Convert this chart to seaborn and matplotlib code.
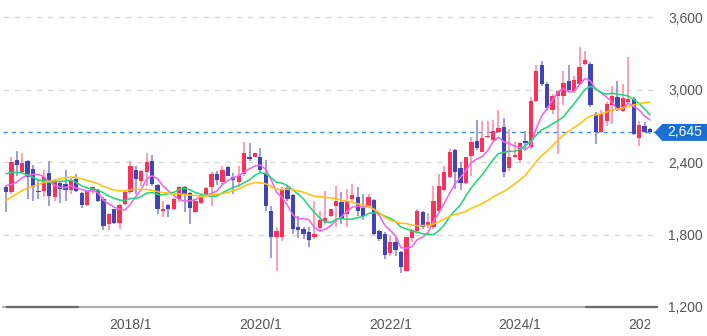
import numpy as np
import pandas as pd
import matplotlib
matplotlib.use("Agg")
import matplotlib.pyplot as plt
import seaborn as sns
from matplotlib.patches import Polygon
from matplotlib.transforms import Bbox, TransformedBbox, blended_transform_factory

# Monthly candles, 2016/2 .. 2026/1
first_month = "2016-02"
open_ = [2197, 2150, 2418, 2316, 2412, 2343, 2164, 2156, 2307, 2109,
         2228, 2219, 2172, 2261, 2145, 2048, 2164, 2170, 2095, 1883,
         2007, 1894, 2054, 2150, 2335, 2247, 2316, 2407, 2211, 1993,
         2048, 2012, 2095, 2197, 2142, 1985, 2059, 2137, 2192, 2302,
         2233, 2357, 2274, 2233, 2302, 2445, 2445, 2440, 2302, 1998,
         1778, 1783, 2186, 2123, 1861, 1847, 1819, 1778, 1852, 1902,
         1952, 2032, 2068, 1971, 2090, 2114, 2021, 2032, 2087, 1833,
         1805, 1645, 1736, 1654, 1502, 1772, 1833, 1985, 1875, 1861,
         1998, 2172, 2280, 2501, 2349, 2225, 2448, 2578, 2487, 2605,
         2583, 2647, 2690, 2351, 2440, 2418, 2575, 2522, 2901, 3199,
         3047, 2830, 2945, 2950, 3069, 2990, 3047, 3212, 3212, 2799,
         2647, 2740, 2868, 2942, 2826, 2895, 2923, 2600, 2694, 2674]
high = [2205, 2445, 2490, 2473, 2418, 2379, 2261, 2335, 2412, 2252,
        2233, 2335, 2266, 2302, 2150, 2160, 2197, 2178, 2109, 1977,
        2010, 2050, 2164, 2412, 2371, 2335, 2473, 2462, 2219, 2081,
        2054, 2100, 2200, 2205, 2150, 2095, 2125, 2192, 2316, 2324,
        2371, 2363, 2308, 2363, 2564, 2556, 2478, 2520, 2418, 2040,
        1861, 2192, 2205, 2137, 1957, 1861, 1861, 2076, 1998, 2164,
        2012, 2205, 2150, 2178, 2219, 2192, 2137, 2137, 2095, 1838,
        1819, 1800, 1778, 1662, 1783, 1847, 2012, 1998, 1975, 2205,
        2302, 2371, 2509, 2510, 2398, 2445, 2605, 2749, 2743, 2743,
        2749, 2832, 2765, 2674, 2564, 2564, 2660, 2942, 3199, 3240,
        3060, 2965, 2992, 3157, 3199, 3110, 3356, 3323, 3230, 2812,
        2830, 2900, 3033, 3074, 3047, 3268, 2936, 2743, 2730, 2680]
low = [1990, 2137, 2288, 2310, 2095, 2081, 2095, 2109, 2040, 2081,
       2059, 2081, 2137, 2150, 2021, 2040, 2137, 2073, 1841, 1839,
       1883, 1847, 2048, 2137, 2137, 2205, 2205, 2205, 1971, 1949,
       1949, 2004, 2068, 1985, 1888, 1977, 2054, 2130, 2040, 2211,
       2219, 2285, 2137, 2197, 2288, 2407, 2440, 2320, 1998, 1604,
       1502, 1750, 2081, 1805, 1772, 1764, 1695, 1764, 1833, 1880,
       1943, 1861, 1888, 1861, 2081, 1957, 1916, 2026, 1792, 1750,
       1598, 1626, 1626, 1480, 1495, 1736, 1819, 1847, 1850, 1847,
       1985, 2160, 2270, 2178, 2172, 2215, 2288, 2501, 2481, 2595,
       2578, 2638, 2274, 2329, 2434, 2390, 2495, 2510, 2895, 3033,
       2820, 2800, 2467, 2868, 2980, 2975, 3040, 3200, 2854, 2550,
       2640, 2700, 2716, 2826, 2812, 2881, 2620, 2536, 2640, 2630]
close = [2150, 2399, 2377, 2390, 2274, 2192, 2150, 2280, 2117, 2233,
         2178, 2172, 2247, 2159, 2048, 2156, 2192, 2081, 1869, 1971,
         1894, 2048, 2150, 2363, 2261, 2324, 2399, 2219, 2007, 2012,
         2007, 2095, 2197, 2137, 2021, 2081, 2123, 2186, 2302, 2252,
         2335, 2288, 2253, 2288, 2473, 2426, 2476, 2330, 2040, 1783,
         1833, 2178, 2095, 1847, 1841, 1805, 1756, 1805, 1916, 1938,
         2012, 2081, 1930, 2076, 2123, 1993, 1957, 2109, 1805, 1764,
         1634, 1736, 1673, 1529, 1778, 1839, 1993, 1861, 1905, 2076,
         2205, 2321, 2487, 2321, 2227, 2440, 2564, 2517, 2600, 2619,
         2655, 2683, 2321, 2440, 2462, 2558, 2560, 2901, 3157, 3047,
         2850, 2950, 2985, 3052, 2992, 3080, 3190, 3245, 2868, 2647,
         2799, 2880, 2950, 2840, 2931, 2923, 2633, 2710, 2647, 2645]
# Closes for 2014/3 .. 2016/1, only used to seed the moving averages
close_prior = [1700, 1720, 1760, 1800, 1780, 1830, 1870, 1900, 1940, 1960,
               2000, 2060, 2250, 2380, 2450, 2480, 2420, 2414, 2350, 2250,
               2180, 2150, 2150]
ma_windows = [6, 12, 24]
tick_labels = ["2018/1", "2020/1", "2022/1", "2024/1", "2026/1"]
y_ticks = [1200, 1800, 2400, 3000, 3600]

ma_colors = {6: "#ee66ee", 12: "#22d77a", 24: "#ffc20e"}
up_body, down_body = "#fa325a", "#4343b8"
up_wick, down_wick = "#ff8fa8", "#8c8cd8"

months = pd.period_range(first_month, periods=len(close), freq="M")
labels_idx = [i for i, m in enumerate(months) if f"{m.year}/{m.month}" in tick_labels]
idx = np.arange(len(close))

o = np.array(open_, float)
h = np.array(high, float)
l = np.array(low, float)
c = np.array(close, float)

full = pd.Series(close_prior + close, dtype=float)
frames = []
for w in ma_windows:
    ma = full.rolling(w).mean().iloc[len(close_prior):].to_numpy()
    frames.append(pd.DataFrame({"idx": idx, "value": ma, "window": w}))
ma_df = pd.concat(frames, ignore_index=True)

sns.set_theme(style="white")
plt.rcParams["font.family"] = ["Liberation Sans", "DejaVu Sans"]

W, H = 707, 336
fig = plt.figure(figsize=(W / 100, H / 100), dpi=100)
ax_left, ax_right, ax_bottom = 3, 657, 307
ax = fig.add_axes([ax_left / W, (H - ax_bottom) / H, (ax_right - ax_left) / W, ax_bottom / H])
ax.set_facecolor("white")

ax.set_xlim(-0.55, 120.3)
ax.set_ylim(1200, 3741)

# dashed horizontal grid
for yv in y_ticks[1:]:
    ax.axhline(yv, color="#d8d8d8", lw=1, dashes=(4, 4), zorder=0)

# candles
up = c >= o
ax.vlines(idx, l, h, colors=np.where(up, up_wick, down_wick), linewidth=1.2, zorder=2)
body_bottom = np.minimum(o, c)
body_h = np.maximum(np.abs(c - o), 9)
ax.bar(idx, body_h, bottom=body_bottom, width=0.8,
       color=np.where(up, up_body, down_body), linewidth=0, zorder=3)

# moving averages
sns.lineplot(data=ma_df, x="idx", y="value", hue="window", palette=ma_colors,
             legend=False, linewidth=1.15, errorbar=None, ax=ax, zorder=4)

# last price line
last = close[-1]
ax.axhline(last, color="#3f8fe0", lw=1, dashes=(3, 3), zorder=1)

# bottom axis line with darker end handles
ax.plot([0, 1], [0, 0], transform=ax.transAxes, color="#b0b0b0", lw=1.6, clip_on=False, zorder=5)
ax.plot([0.006, 0.114], [0, 0], transform=ax.transAxes, color="#6a6a6a", lw=1.6, clip_on=False, zorder=6)
ax.plot([0.892, 1.0], [0, 0], transform=ax.transAxes, color="#6a6a6a", lw=1.6, clip_on=False, zorder=6)

for s in ax.spines.values():
    s.set_visible(False)

ax.yaxis.tick_right()
ax.set_yticks(y_ticks, [f"{v:,}" for v in y_ticks])
ax.tick_params(axis="y", length=0, pad=8, labelcolor="#555555", labelsize=10)

# month labels under the axis, cut off where the price scale begins
ax.set_xticks([])
clip = TransformedBbox(Bbox([[0, 0], [650 / W, 1]]), fig.transFigure)
xlab_tf = blended_transform_factory(ax.transData, ax.transAxes)
for pos, txt in zip(labels_idx, tick_labels):
    t = ax.text(pos, -0.035, txt, transform=xlab_tf, ha="center", va="top",
                color="#555555", fontsize=10, clip_on=True)
    t.set_clip_box(clip)
ax.set_xlabel("")
ax.set_ylabel("")

# last price tag
blend = blended_transform_factory(ax.transAxes, ax.transData)
half = 70
tag = Polygon([(0.996, last), (1.008, last + half), (1.077, last + half),
               (1.077, last - half), (1.008, last - half)], closed=True,
              transform=blend, facecolor="#1a6fd0", edgecolor="none", clip_on=False, zorder=7)
ax.add_patch(tag)
ax.text(1.043, last, f"{last:,}", transform=blend, color="white", ha="center",
        va="center", fontsize=10, zorder=8, clip_on=False)

fig.savefig("out.png", dpi=100, facecolor="white")
